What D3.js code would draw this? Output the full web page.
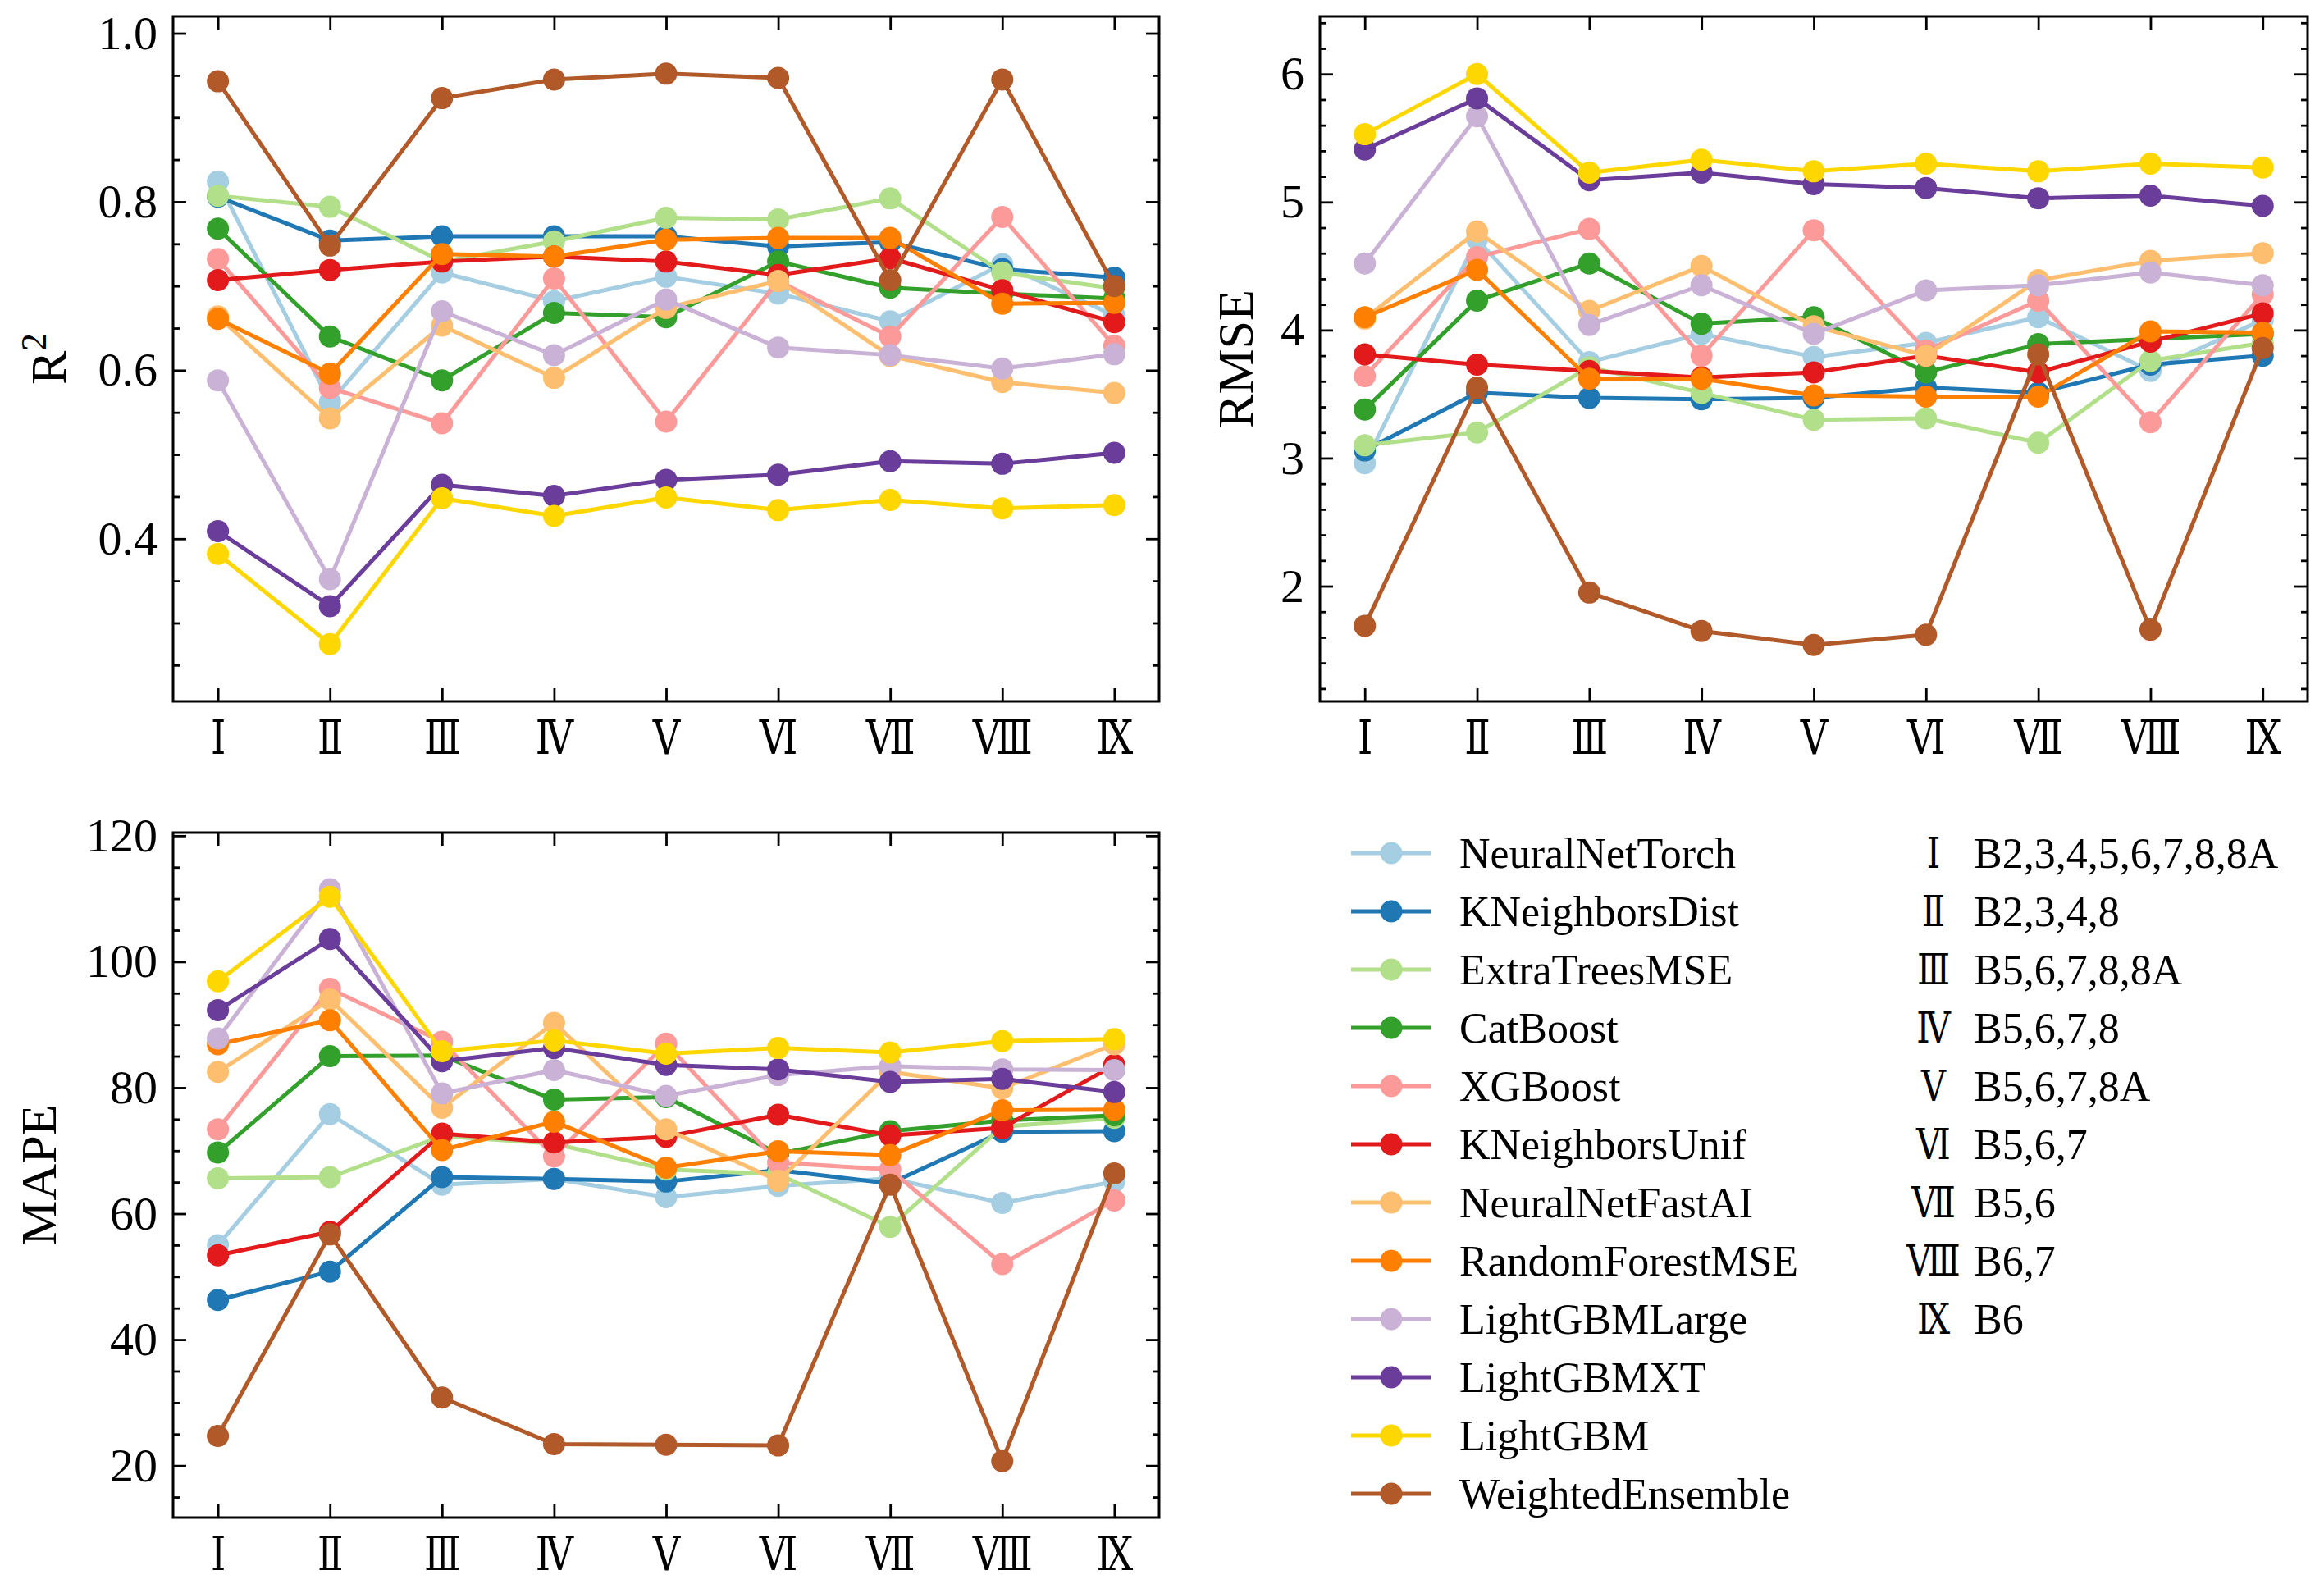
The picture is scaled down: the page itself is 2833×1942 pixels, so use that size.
<!DOCTYPE html>
<html>
<head>
<meta charset="utf-8">
<script src="https://cdn.jsdelivr.net/npm/d3@7"></script>
<style>
  body { margin: 0; background: #fff; }
  svg { display: block; font-family: "Liberation Serif", "DejaVu Serif", serif; }
</style>
</head>
<body>
<script>
// categories (feature sets) and models
const categories = ["Ⅰ", "Ⅱ", "Ⅲ", "Ⅳ", "Ⅴ", "Ⅵ", "Ⅶ", "Ⅷ", "Ⅸ"];
const bandSets = ["B2,3,4,5,6,7,8,8A", "B2,3,4,8", "B5,6,7,8,8A", "B5,6,7,8", "B5,6,7,8A",
                  "B5,6,7", "B5,6", "B6,7", "B6"];
const models = ["NeuralNetTorch", "KNeighborsDist", "ExtraTreesMSE", "CatBoost", "XGBoost",
                "KNeighborsUnif", "NeuralNetFastAI", "RandomForestMSE", "LightGBMLarge",
                "LightGBMXT", "LightGBM", "WeightedEnsemble"];
const colors = ["#a6cee3", "#1f78b4", "#b2df8a", "#33a02c", "#fb9a99", "#e31a1c",
                "#fdbf6f", "#ff7f00", "#cab2d6", "#6a3d9a", "#ffd700", "#b15928"];

// one row per model, in the order of `models`
const r2Values = [
  [0.824, 0.562, 0.716, 0.682, 0.711, 0.691, 0.658, 0.726, 0.665],
  [0.806, 0.754, 0.759, 0.759, 0.759, 0.747, 0.752, 0.720, 0.710],
  [0.807, 0.794, 0.729, 0.753, 0.781, 0.779, 0.804, 0.716, 0.697],
  [0.768, 0.640, 0.588, 0.668, 0.663, 0.729, 0.698, 0.691, 0.685],
  [0.732, 0.579, 0.537, 0.709, 0.539, 0.706, 0.640, 0.782, 0.629],
  [0.707, 0.719, 0.729, 0.735, 0.729, 0.713, 0.733, 0.695, 0.657],
  [0.664, 0.543, 0.653, 0.591, 0.674, 0.706, 0.617, 0.586, 0.573],
  [0.661, 0.596, 0.738, 0.735, 0.755, 0.757, 0.757, 0.679, 0.680],
  [0.588, 0.352, 0.670, 0.618, 0.684, 0.627, 0.618, 0.602, 0.619],
  [0.409, 0.320, 0.464, 0.451, 0.470, 0.476, 0.492, 0.489, 0.502],
  [0.382, 0.275, 0.448, 0.427, 0.449, 0.434, 0.446, 0.436, 0.440],
  [0.943, 0.748, 0.923, 0.945, 0.952, 0.947, 0.707, 0.945, 0.700]
];
const rmseValues = [
  [2.96, 4.71, 3.75, 3.97, 3.79, 3.90, 4.10, 3.68, 4.08],
  [3.06, 3.51, 3.47, 3.46, 3.47, 3.55, 3.51, 3.73, 3.80],
  [3.10, 3.20, 3.71, 3.51, 3.30, 3.31, 3.12, 3.76, 3.90],
  [3.38, 4.23, 4.52, 4.05, 4.10, 3.67, 3.89, 3.93, 3.97],
  [3.64, 4.57, 4.79, 3.80, 4.78, 3.84, 4.23, 3.28, 4.28],
  [3.81, 3.73, 3.68, 3.63, 3.67, 3.80, 3.67, 3.91, 4.13],
  [4.09, 4.77, 4.15, 4.50, 4.03, 3.80, 4.39, 4.54, 4.60],
  [4.10, 4.47, 3.62, 3.62, 3.49, 3.48, 3.48, 3.99, 3.98],
  [4.52, 5.67, 4.04, 4.35, 3.97, 4.31, 4.35, 4.45, 4.35],
  [5.41, 5.81, 5.17, 5.23, 5.14, 5.11, 5.03, 5.05, 4.97],
  [5.53, 6.00, 5.23, 5.33, 5.24, 5.30, 5.24, 5.30, 5.27],
  [1.69, 3.55, 1.95, 1.65, 1.54, 1.62, 3.81, 1.66, 3.86]
];
const mapeValues = [
  [55.0, 75.8, 64.6, 65.5, 62.6, 64.4, 65.6, 61.7, 65.1],
  [46.3, 50.8, 65.8, 65.5, 65.1, 66.9, 64.8, 73.0, 73.1],
  [65.6, 65.8, 72.3, 71.1, 67.0, 66.3, 57.9, 73.8, 75.2],
  [69.7, 85.0, 85.1, 78.1, 78.5, 69.5, 73.1, 74.8, 75.6],
  [73.4, 95.7, 87.3, 69.1, 87.0, 68.1, 67.0, 52.0, 62.1],
  [53.4, 57.1, 72.7, 71.3, 72.2, 75.7, 72.4, 73.6, 83.6],
  [82.5, 94.0, 76.8, 90.3, 73.4, 65.2, 82.5, 79.9, 86.9],
  [86.9, 90.7, 70.1, 74.6, 67.3, 69.9, 69.3, 76.4, 76.5],
  [87.8, 111.5, 79.1, 82.8, 78.7, 82.0, 83.4, 82.9, 82.8],
  [92.3, 103.6, 84.2, 86.3, 83.6, 82.9, 80.9, 81.4, 79.3],
  [96.9, 110.3, 85.8, 87.5, 85.4, 86.3, 85.6, 87.4, 87.7],
  [24.7, 56.7, 30.8, 23.4, 23.3, 23.2, 64.6, 20.7, 66.4]
];

const r2Ticks = [0.4, 0.6, 0.8, 1.0];
const rmseTicks = [2, 3, 4, 5, 6];
const mapeTicks = [20, 40, 60, 80, 100, 120];

const W = 2833, H = 1942;
const tickFont = 58, labelFont = 62, legendFont = 52;
const fontStack = '"Liberation Serif", "DejaVu Serif", serif';

const svg = d3.select("body").append("svg")
    .attr("width", W).attr("height", H)
    .attr("viewBox", `0 0 ${W} ${H}`);

// roman numeral glyphs come out wide in the fallback font, squeeze them a bit
function condense(sel, f) {
  sel.each(function() {
    const len = this.getComputedTextLength();
    if (len > 0) d3.select(this).attr("textLength", len * f).attr("lengthAdjust", "spacingAndGlyphs");
  });
}

function panel(opt) {
  const w = opt.right - opt.left, h = opt.bottom - opt.top;
  const g = svg.append("g").attr("transform", `translate(${opt.left},${opt.top})`);

  const x = d3.scaleLinear().domain([-0.4, categories.length - 1 + 0.4]).range([0, w]);
  const y = d3.scaleLinear().domain(opt.domain).range([h, 0]);
  const idx = d3.range(categories.length);

  const minor = d3.range(opt.minorStart, opt.domain[1], opt.minorStep)
      .filter(v => v >= opt.domain[0] && !opt.ticks.some(t => Math.abs(t - v) < 1e-9));

  function styleAxis(sel) {
    sel.attr("font-family", fontStack).attr("font-size", tickFont);
    sel.select(".domain").remove();
    sel.selectAll(".tick line").attr("stroke", "#000").attr("stroke-width", 2.8);
    sel.selectAll(".tick text").attr("fill", "#000");
  }

  // y axis: left (labelled) and right, major + minor, ticks pointing in
  g.append("g").call(d3.axisLeft(y).tickValues(opt.ticks).tickFormat(opt.fmt)
      .tickSize(-16).tickPadding(19)).call(styleAxis);
  g.append("g").call(d3.axisLeft(y).tickValues(minor).tickFormat("").tickSize(-8)).call(styleAxis);
  g.append("g").attr("transform", `translate(${w},0)`)
      .call(d3.axisRight(y).tickValues(opt.ticks).tickFormat("").tickSize(-16)).call(styleAxis);
  g.append("g").attr("transform", `translate(${w},0)`)
      .call(d3.axisRight(y).tickValues(minor).tickFormat("").tickSize(-8)).call(styleAxis);

  // x axis: bottom (labelled) and top
  const xb = g.append("g").attr("transform", `translate(0,${h})`)
      .call(d3.axisBottom(x).tickValues(idx).tickFormat(i => categories[i])
      .tickSize(-16).tickPadding(23)).call(styleAxis);
  xb.selectAll(".tick text").call(condense, 0.8);
  g.append("g").call(d3.axisTop(x).tickValues(idx).tickFormat("").tickSize(-16)).call(styleAxis);

  g.append("rect").attr("width", w).attr("height", h)
      .attr("fill", "none").attr("stroke", "#000").attr("stroke-width", 3);

  const line = d3.line().x((d, i) => x(i)).y(d => y(d));
  opt.values.forEach((row, k) => {
    const s = g.append("g");
    s.append("path").datum(row).attr("d", line)
        .attr("fill", "none").attr("stroke", colors[k]).attr("stroke-width", 5)
        .attr("stroke-linejoin", "round");
    s.selectAll("circle").data(row).join("circle")
        .attr("cx", (d, i) => x(i)).attr("cy", d => y(d)).attr("r", 13.5)
        .attr("fill", colors[k]);
  });

  const lab = svg.append("text")
      .attr("transform", `translate(${opt.labelX},${opt.top + h / 2}) rotate(-90)`)
      .attr("text-anchor", "middle").attr("dy", "0.35em")
      .style("font-size", labelFont + "px").attr("fill", "#000");
  lab.append("tspan").text(opt.label);
  if (opt.sup) {
    lab.append("tspan").text(opt.sup).attr("baseline-shift", "super")
        .style("font-size", (labelFont * 0.7) + "px");
  }
}

panel({left: 211, right: 1413, top: 20, bottom: 855, domain: [0.207, 1.02],
       values: r2Values, ticks: r2Ticks, minorStart: 0.25, minorStep: 0.05,
       fmt: d3.format(".1f"), label: "R", sup: "2", labelX: 58});
panel({left: 1609, right: 2813, top: 20, bottom: 855, domain: [1.1, 6.45],
       values: rmseValues, ticks: rmseTicks, minorStart: 1.2, minorStep: 0.2,
       fmt: d3.format("d"), label: "RMSE", labelX: 1505});
panel({left: 211, right: 1413, top: 1015, bottom: 1850, domain: [11.75, 120.5],
       values: mapeValues, ticks: mapeTicks, minorStart: 15, minorStep: 5,
       fmt: d3.format("d"), label: "MAPE", labelX: 46});

// legend
const rowY = d3.scaleLinear().domain([0, 1]).range([1040, 1111]);
const leg = svg.append("g");
models.forEach((m, k) => {
  const yy = rowY(k);
  leg.append("line").attr("x1", 1647).attr("x2", 1744).attr("y1", yy).attr("y2", yy)
      .attr("stroke", colors[k]).attr("stroke-width", 5);
  leg.append("circle").attr("cx", 1696).attr("cy", yy).attr("r", 13.5).attr("fill", colors[k]);
  leg.append("text").attr("x", 1779).attr("y", yy).attr("dy", "0.35em")
      .style("font-size", legendFont + "px").text(m);
});
categories.forEach((c, i) => {
  const yy = rowY(i);
  leg.append("text").attr("class", "numeral").attr("x", 2357).attr("y", yy).attr("dy", "0.35em")
      .attr("text-anchor", "middle").style("font-size", legendFont + "px").text(c);
  leg.append("text").attr("x", 2406).attr("y", yy).attr("dy", "0.35em")
      .style("font-size", legendFont + "px").text(bandSets[i]);
});
leg.selectAll(".numeral").call(condense, 0.8);
</script>
</body>
</html>
